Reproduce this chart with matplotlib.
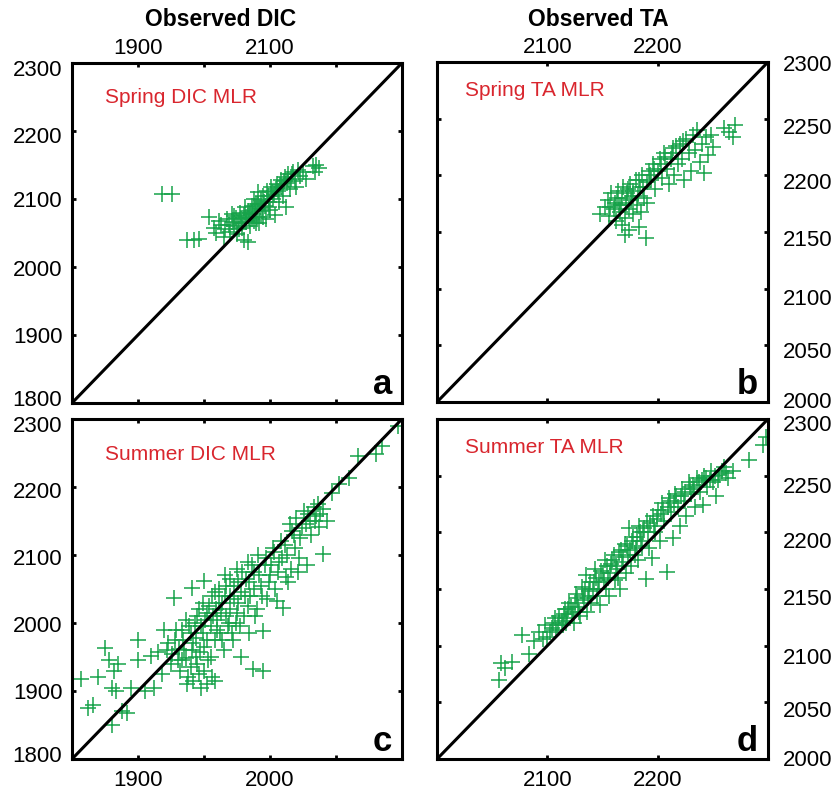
import matplotlib
matplotlib.use("Agg")
import matplotlib.pyplot as plt
import matplotlib.transforms as mtransforms

plt.rcParams['font.family'] = ['Liberation Sans', 'DejaVu Sans']

GREEN = '#17a34a'
RED = '#d9262e'

# ---- data (observed, modelled) ----
spring_dic = [
    (1937, 2108), (1952, 2108),
    (1975, 2040), (1985, 2040), (1993, 2041),
    (2008, 2074), (2015, 2058), (2018, 2050), (2022, 2068), (2026, 2062),
    (2030, 2044), (2032, 2056), (2035, 2070), (2038, 2062), (2040, 2052),
    (2042, 2078), (2044, 2066), (2046, 2060), (2048, 2072), (2050, 2048),
    (2052, 2064), (2054, 2080), (2056, 2070), (2058, 2058), (2060, 2040),
    (2060, 2076), (2062, 2088), (2064, 2066), (2066, 2036), (2066, 2082),
    (2068, 2072), (2070, 2060), (2072, 2090), (2074, 2078), (2076, 2100),
    (2076, 2068), (2078, 2085), (2080, 2074), (2082, 2110), (2082, 2092),
    (2084, 2064), (2086, 2098), (2088, 2082), (2090, 2104), (2092, 2090),
    (2094, 2070), (2096, 2112), (2098, 2096), (2100, 2084), (2102, 2118),
    (2104, 2100), (2106, 2108), (2108, 2076), (2110, 2122), (2112, 2112),
    (2114, 2096), (2116, 2128), (2118, 2118), (2120, 2104), (2122, 2132),
    (2124, 2088), (2126, 2124), (2128, 2136), (2130, 2114), (2132, 2130),
    (2135, 2140), (2138, 2126), (2140, 2118), (2142, 2142), (2145, 2134),
    (2150, 2140), (2155, 2130), (2165, 2148), (2170, 2150), (2175, 2146),
    (2168, 2140), (2057, 2064), (2063, 2074), (2069, 2080), (2073, 2070),
    (2079, 2092), (2085, 2086), (2091, 2096), (2097, 2104), (2103, 2110),
    (2109, 2114), (2115, 2120), (2121, 2126), (2127, 2130), (2133, 2136),
    (2079, 2064), (2089, 2074), (2099, 2088), (2045, 2075), (2053, 2056),
]

spring_ta = [
    (2148, 2166), (2152, 2172), (2155, 2178), (2156, 2164), (2158, 2184),
    (2160, 2170), (2161, 2176), (2162, 2160), (2164, 2186), (2165, 2174),
    (2166, 2168), (2168, 2180), (2169, 2190), (2170, 2162), (2171, 2176),
    (2172, 2184), (2174, 2170), (2175, 2192), (2176, 2178), (2178, 2166),
    (2178, 2186), (2180, 2196), (2181, 2174), (2182, 2182), (2184, 2190),
    (2185, 2168), (2186, 2200), (2188, 2180), (2190, 2176), (2190, 2194),
    (2170, 2147), (2168, 2156), (2183, 2154), (2189, 2145), (2174, 2152),
    (2192, 2204), (2194, 2196), (2196, 2210), (2198, 2188), (2200, 2204),
    (2202, 2214), (2204, 2198), (2206, 2220), (2208, 2206), (2210, 2192),
    (2212, 2214), (2214, 2224), (2215, 2200), (2218, 2210), (2220, 2228),
    (2222, 2214), (2224, 2196), (2226, 2232), (2228, 2220), (2230, 2204),
    (2232, 2236), (2234, 2222), (2236, 2240), (2238, 2212), (2240, 2228),
    (2242, 2202), (2244, 2234), (2246, 2218), (2248, 2236), (2250, 2225),
    (2260, 2242), (2265, 2238), (2270, 2244), (2268, 2234),
    (2157, 2172), (2163, 2180), (2167, 2174), (2173, 2188), (2177, 2182),
    (2183, 2196), (2187, 2190), (2193, 2200), (2197, 2206), (2203, 2210),
    (2207, 2216), (2213, 2220), (2217, 2226), (2223, 2230),
]

summer_dic = [
    (1857, 1918), (1862, 1875), (1866, 1880), (1870, 1920), (1875, 1963),
    (1878, 1945), (1880, 1905), (1882, 1930), (1883, 1900), (1880, 1850),
    (1885, 1940), (1888, 1870), (1892, 1868), (1895, 1905), (1900, 1975),
    (1900, 1945), (1905, 1900), (1910, 1952), (1912, 1905), (1915, 1958),
    (1918, 1925), (1920, 1990), (1922, 1960), (1925, 1940), (1927, 2037),
    (1928, 1975), (1930, 1945), (1932, 1930), (1933, 1990), (1935, 1960),
    (1936, 2005), (1938, 1920), (1940, 1985), (1941, 2052), (1942, 1970),
    (1944, 1950), (1945, 2010), (1946, 1925), (1948, 1995), (1949, 2030),
    (1950, 1965), (1950, 2062), (1952, 2015), (1953, 1945), (1955, 1995),
    (1956, 2040), (1958, 1975), (1959, 2020), (1960, 2005), (1961, 2050),
    (1962, 1985), (1964, 2030), (1965, 1960), (1966, 2070), (1967, 2010),
    (1968, 1995), (1970, 2040), (1970, 2020), (1972, 1975), (1973, 2055),
    (1974, 2000), (1975, 2080), (1976, 2030), (1978, 1950), (1978, 2045),
    (1980, 2010), (1982, 2065), (1983, 2090), (1984, 1985), (1985, 2040),
    (1987, 1933), (1988, 2075), (1990, 2020), (1991, 2100), (1993, 2055),
    (1995, 1988), (1995, 1930), (1996, 2085), (1998, 2035), (2000, 2070),
    (2002, 2110), (2004, 2050), (2005, 2032), (2007, 2090), (2008, 2120),
    (2010, 2022), (2012, 2067), (2013, 2100), (2015, 2145), (2016, 2080),
    (2018, 2130), (2020, 2155), (2022, 2095), (2024, 2140), (2026, 2165),
    (2028, 2085), (2030, 2150), (2033, 2170), (2035, 2158), (2037, 2141),
    (2040, 2101), (2040, 2168), (2043, 2150), (2047, 2191), (2052, 2205),
    (2060, 2213), (2067, 2245), (2080, 2248), (2085, 2260), (2097, 2290),
    (1942, 1915), (1948, 1905), (1937, 1910), (1952, 1910), (1958, 1915),
    (1923, 1970), (1926, 1955), (1929, 1990), (1931, 1962), (1934, 1975),
    (1936, 1948), (1939, 1995), (1941, 1960), (1943, 2000), (1944, 1978),
    (1946, 2020), (1947, 1958), (1949, 1985), (1951, 2005), (1952, 1975),
    (1954, 2025), (1955, 1950), (1957, 2010), (1958, 2045), (1960, 1990),
    (1961, 2030), (1963, 2015), (1964, 1975), (1966, 2040), (1967, 2055),
    (1969, 2000), (1970, 2065), (1971, 1985), (1973, 2035), (1975, 2015),
    (1976, 2060), (1977, 1995), (1979, 2075), (1981, 2040), (1983, 2025),
    (1984, 2060), (1986, 2085), (1988, 2050), (1989, 2010), (1992, 2070),
    (1994, 2040), (1997, 2095), (1999, 2060), (2001, 2085), (2003, 2105),
    (2006, 2075), (2009, 2095), (2011, 2115), (2014, 2060), (2017, 2135),
    (2019, 2110), (2021, 2075), (2023, 2125), (2027, 2145), (2029, 2160),
    (2031, 2130), (2034, 2150), (2036, 2175), (2038, 2160), (1945, 1940),
    (1950, 1930), (1940, 1935), (1956, 1920), (1933, 1945),
]

summer_ta = [
    (2056, 2070), (2058, 2085), (2062, 2080), (2068, 2086), (2077, 2109),
    (2083, 2093), (2088, 2104), (2092, 2112), (2096, 2106), (2098, 2118),
    (2102, 2112), (2105, 2120), (2108, 2114), (2111, 2126), (2114, 2118),
    (2116, 2132), (2118, 2124), (2120, 2138), (2122, 2128), (2124, 2120),
    (2126, 2146), (2128, 2134), (2130, 2126), (2131, 2152), (2133, 2140),
    (2135, 2162), (2136, 2130), (2138, 2148), (2140, 2138), (2142, 2156),
    (2143, 2168), (2145, 2144), (2147, 2156), (2148, 2136), (2150, 2164),
    (2152, 2176), (2153, 2150), (2155, 2160), (2156, 2144), (2158, 2172),
    (2160, 2180), (2161, 2158), (2163, 2168), (2165, 2183), (2166, 2150),
    (2168, 2174), (2170, 2190), (2171, 2164), (2173, 2180), (2174, 2204),
    (2176, 2170), (2178, 2196), (2180, 2186), (2182, 2176), (2183, 2206),
    (2185, 2192), (2187, 2200), (2189, 2159), (2190, 2210), (2192, 2186),
    (2195, 2177), (2196, 2214), (2198, 2200), (2200, 2220), (2202, 2192),
    (2204, 2226), (2206, 2210), (2208, 2165), (2210, 2230), (2212, 2218),
    (2214, 2195), (2216, 2234), (2218, 2222), (2220, 2206), (2222, 2238),
    (2224, 2228), (2226, 2214), (2228, 2244), (2230, 2234), (2232, 2242),
    (2234, 2222), (2236, 2248), (2238, 2236), (2241, 2224), (2242, 2250),
    (2245, 2240), (2248, 2254), (2250, 2244), (2253, 2232), (2256, 2251),
    (2260, 2258), (2264, 2248), (2268, 2254), (2283, 2264), (2295, 2277),
    (2298, 2284),
    (2100, 2108), (2104, 2116), (2107, 2124), (2110, 2118), (2113, 2122),
    (2115, 2128), (2117, 2120), (2119, 2132), (2121, 2134), (2123, 2130),
    (2125, 2138), (2127, 2142), (2129, 2130), (2132, 2144), (2134, 2150),
    (2137, 2142), (2139, 2156), (2141, 2150), (2144, 2160), (2146, 2150),
    (2149, 2166), (2151, 2158), (2154, 2170), (2157, 2164), (2159, 2176),
    (2162, 2170), (2164, 2160), (2167, 2184), (2169, 2178), (2172, 2188),
    (2175, 2184), (2177, 2192), (2179, 2180), (2181, 2196), (2184, 2200),
    (2186, 2188), (2188, 2204), (2191, 2200), (2193, 2208), (2197, 2206),
    (2199, 2212), (2203, 2216), (2205, 2220), (2209, 2222), (2211, 2228),
    (2215, 2226), (2217, 2232), (2221, 2232), (2225, 2236), (2229, 2240),
    (2233, 2238), (2237, 2244), (2240, 2246), (2244, 2248), (2247, 2246),
    (2252, 2250), (2255, 2246), (2258, 2254), (2262, 2252),
]

panel_titles = ['Spring DIC MLR', 'Spring TA MLR', 'Summer DIC MLR', 'Summer TA MLR']
panel_letters = ['a', 'b', 'c', 'd']

dic_y_ticks = [1800, 1900, 2000, 2100, 2200, 2300]
ta_y_ticks = [2000, 2050, 2100, 2150, 2200, 2250, 2300]


def setup(ax, data, xlim, ylim, xticks, xlabels, yticks, title, letter, title_pos):
    xs = [p[0] for p in data]
    ys = [p[1] for p in data]
    ax.plot(xs, ys, '+', color=GREEN, markersize=11, mew=1.1)
    # 1:1 line, corner to corner
    ax.plot(xlim, ylim, color='black', lw=2.2, zorder=3)
    ax.set_xlim(xlim)
    ax.set_ylim(ylim)
    ax.set_xticks(xticks)
    ax.set_xticklabels(xlabels)
    ax.set_yticks(yticks)
    ax.set_yticklabels([str(t) for t in yticks])
    for s in ax.spines.values():
        s.set_linewidth(2.2)
    ax.tick_params(direction='in', length=3, width=2, labelsize=16,
                   top=True, bottom=True, left=True, right=True)
    ax.text(title_pos[0], title_pos[1], title, transform=ax.transAxes,
            color=RED, fontsize=15, ha='left', va='center')
    ax.text(0.97, 0.025, letter, transform=ax.transAxes, fontsize=25,
            fontweight='bold', ha='right', va='baseline')


def nudge_ylabels(ax, shifts):
    # shift y tick labels vertically (pixels, positive = down)
    for tick, dy in zip(ax.yaxis.get_major_ticks(), shifts):
        off = mtransforms.ScaledTranslation(0, -dy / 100, ax.figure.dpi_scale_trans)
        tick.label1.set_transform(tick.label1.get_transform() + off)
        tick.label2.set_transform(tick.label2.get_transform() + off)


fig = plt.figure(figsize=(8.38, 7.9), dpi=100)

ax_a = fig.add_axes([0.0859, 0.4899, 0.3938, 0.4304])
ax_b = fig.add_axes([0.5215, 0.4911, 0.3950, 0.4304])
ax_c = fig.add_axes([0.0859, 0.0392, 0.3938, 0.4304])
ax_d = fig.add_axes([0.5215, 0.0392, 0.3950, 0.4304])

setup(ax_a, spring_dic, (1800, 2300), (1800, 2300),
      [1900, 2000, 2100, 2200], ['1900', '', '2100', ''],
      dic_y_ticks, panel_titles[0], panel_letters[0], (0.10, 0.897))
ax_a.tick_params(labeltop=True, labelbottom=False, pad=3)
ax_a.tick_params(axis='y', pad=7)

setup(ax_b, spring_ta, (2000, 2300), (2000, 2300),
      [2100, 2200], ['2100', '2200'],
      ta_y_ticks, panel_titles[1], panel_letters[1], (0.085, 0.915))
ax_b.tick_params(labeltop=True, labelbottom=False, labelleft=False,
                 labelright=True, pad=3)
ax_b.tick_params(axis='y', pad=11)

setup(ax_c, summer_dic, (1850, 2100), (1800, 2300),
      [1900, 1950, 2000, 2050], ['1900', '', '2000', ''],
      dic_y_ticks, panel_titles[2], panel_letters[2], (0.10, 0.897))
ax_c.tick_params(axis='x', pad=8)
ax_c.tick_params(axis='y', pad=7)

setup(ax_d, summer_ta, (2000, 2300), (2000, 2300),
      [2100, 2200], ['2100', '2200'],
      ta_y_ticks, panel_titles[3], panel_letters[3], (0.085, 0.915))
ax_d.tick_params(labelleft=False, labelright=True)
ax_d.tick_params(axis='x', pad=8)
ax_d.tick_params(axis='y', pad=11)

# ticks are ordered bottom to top
nudge_ylabels(ax_a, [-5, 0, 1, 0, 4, 5])
nudge_ylabels(ax_c, [-5, 0, 1, 2, 3, 5])
nudge_ylabels(ax_b, [-2, 5, 8, 6, 6, 7, 1])
nudge_ylabels(ax_d, [-1, 7, 10, 8, 8, 9, 4])

fig.text(221 / 838, 1 - 20 / 790, 'Observed DIC', fontsize=16.5,
         fontweight='bold', ha='center', va='center')
fig.text(598 / 838, 1 - 20 / 790, 'Observed TA', fontsize=16.5,
         fontweight='bold', ha='center', va='center')

fig.savefig('out.png', dpi=100)
